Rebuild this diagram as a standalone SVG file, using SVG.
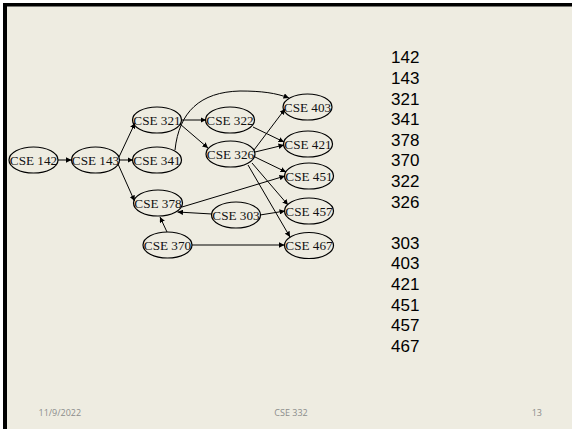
<svg xmlns="http://www.w3.org/2000/svg" width="572" height="429" viewBox="0 0 572 429">
  <style>
    .node ellipse { fill: none; stroke: #000; stroke-width: 1.2; }
    .node text { font-family: "Liberation Serif", "Times New Roman", serif; font-size: 13.2px; text-anchor: middle; fill: #111; }
    .edges path { fill: none; stroke: #000; stroke-width: 1; marker-end: url(#arrow); }
    .list text { font-family: "Liberation Sans", Arial, sans-serif; font-size: 17px; fill: #000; }
    .footer text { font-family: "Open Sans", "Liberation Sans", sans-serif; font-size: 9px; fill: #8c8c8c; }
  </style>
  <defs>
    <marker id="arrow" viewBox="0 0 10 10" refX="10" refY="5" markerWidth="5.5" markerHeight="5.5" markerUnits="userSpaceOnUse" orient="auto">
      <path d="M0,0 L10,5 L0,10 z" fill="#000"/>
    </marker>
  </defs>

  <!-- slide frame and background -->
  <rect x="0" y="0" width="572" height="429" fill="#ffffff"/>
  <rect x="3" y="3" width="569" height="426" fill="#000000"/>
  <rect x="7" y="6.5" width="565" height="422.5" fill="#eeece1"/>

  <!-- prerequisite edges -->
  <g class="edges">
    <path d="M58,160 L71.5,160"/>
    <path d="M119,157 L135,123"/>
    <path d="M119,160 L133,160"/>
    <path d="M118,164 L134.5,201"/>
    <path d="M181.5,120 L206,120"/>
    <path d="M180,124 L208,148"/>
    <path d="M175,150 C 179,112 200,92 240,91 C 262,91 276,93 289,98"/>
    <path d="M253,127 L284,142"/>
    <path d="M254,150 L285,109"/>
    <path d="M255,152 L284,145"/>
    <path d="M255,157 L286,172"/>
    <path d="M252,163 L288,205"/>
    <path d="M248,165 L290,237"/>
    <path d="M182,207 L285,176"/>
    <path d="M212,214 L177.5,212"/>
    <path d="M260,215 L285,211"/>
    <path d="M167,232 L160,217"/>
    <path d="M192,245 L284.5,245"/>
  </g>

  <!-- course nodes -->
  <g id="cse142" class="node"><ellipse cx="33.5" cy="160" rx="24.5" ry="13"/><text x="33.5" y="164.5">CSE 142</text></g>
  <g id="cse143" class="node"><ellipse cx="95.5" cy="160" rx="24" ry="13"/><text x="95.5" y="164.5">CSE 143</text></g>
  <g id="cse321" class="node"><ellipse cx="157" cy="120" rx="24.5" ry="13"/><text x="157" y="124.5">CSE 321</text></g>
  <g id="cse341" class="node"><ellipse cx="157" cy="160" rx="24.5" ry="13"/><text x="157" y="164.5">CSE 341</text></g>
  <g id="cse378" class="node"><ellipse cx="158" cy="203" rx="24.5" ry="13"/><text x="158" y="207.5">CSE 378</text></g>
  <g id="cse322" class="node"><ellipse cx="230" cy="120" rx="24.5" ry="13"/><text x="230" y="124.5">CSE 322</text></g>
  <g id="cse326" class="node"><ellipse cx="230.5" cy="154" rx="24.5" ry="13"/><text x="230.5" y="158.5">CSE 326</text></g>
  <g id="cse403" class="node"><ellipse cx="307.5" cy="107" rx="24.5" ry="13"/><text x="307.5" y="111.5">CSE 403</text></g>
  <g id="cse421" class="node"><ellipse cx="308" cy="144" rx="24.5" ry="13"/><text x="308" y="148.5">CSE 421</text></g>
  <g id="cse451" class="node"><ellipse cx="309" cy="176" rx="24.5" ry="13"/><text x="309" y="180.5">CSE 451</text></g>
  <g id="cse457" class="node"><ellipse cx="309" cy="211" rx="24.5" ry="13"/><text x="309" y="215.5">CSE 457</text></g>
  <g id="cse467" class="node"><ellipse cx="309" cy="245.5" rx="24.5" ry="13"/><text x="309" y="250">CSE 467</text></g>
  <g id="cse303" class="node"><ellipse cx="236" cy="215" rx="24.5" ry="13"/><text x="236" y="219.5">CSE 303</text></g>
  <g id="cse370" class="node"><ellipse cx="167.5" cy="245" rx="24.5" ry="13"/><text x="167.5" y="249.5">CSE 370</text></g>

  <!-- topological order -->
  <g class="list">
    <text x="391" y="63.3">142</text>
    <text x="391" y="83.9">143</text>
    <text x="391" y="104.5">321</text>
    <text x="391" y="125.1">341</text>
    <text x="391" y="145.7">378</text>
    <text x="391" y="166.3">370</text>
    <text x="391" y="186.9">322</text>
    <text x="391" y="207.5">326</text>
    <text x="391" y="248.7">303</text>
    <text x="391" y="269.3">403</text>
    <text x="391" y="289.9">421</text>
    <text x="391" y="310.5">451</text>
    <text x="391" y="331.1">457</text>
    <text x="391" y="351.7">467</text>
  </g>

  <!-- footer -->
  <g class="footer">
    <text x="38.5" y="416">11/9/2022</text>
    <text x="291" y="416" text-anchor="middle">CSE 332</text>
    <text x="542" y="416" text-anchor="end">13</text>
  </g>
</svg>
